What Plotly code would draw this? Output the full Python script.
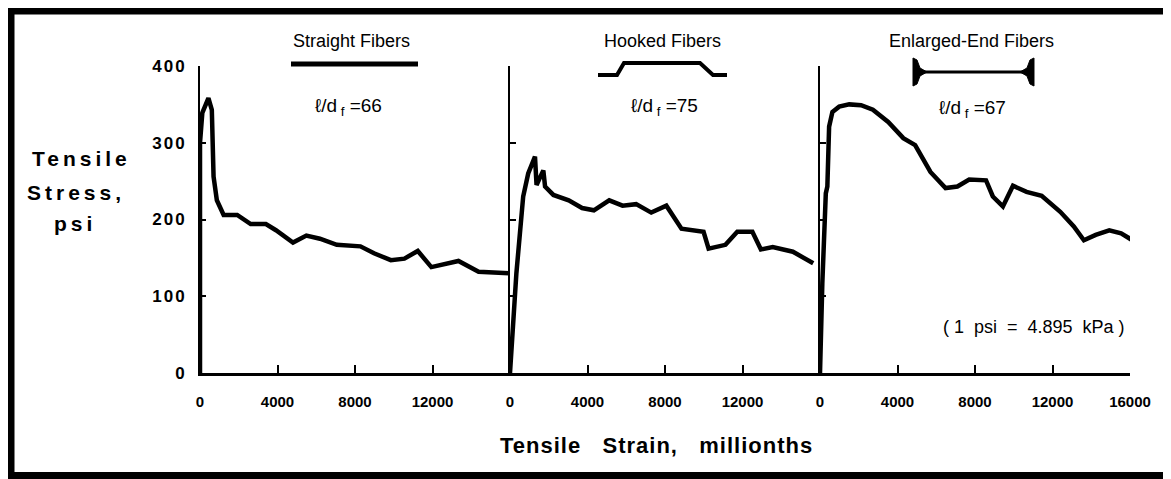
import plotly.graph_objects as go

# ---------------- data ----------------
straight_strain = [0, 0, 120, 435, 610, 700, 870, 1220, 1920, 2615, 3400, 3920, 4800, 5490, 6190,
                   7060, 8280, 8980, 9850, 10550, 11240, 11940, 13340, 14380, 15950]
straight_stress = [0, 300, 339, 358, 343, 256, 225, 206, 206, 194, 194, 186, 170, 179, 175,
                   167, 165, 156, 147, 149, 159, 138, 146, 132, 130]

hooked_strain = [0, 330, 680, 940, 1290, 1370, 1720, 1810, 2240, 3030, 3720, 4330, 5120, 5810,
                 6510, 7290, 8070, 8850, 9990, 10250, 11120, 11730, 12510, 12950, 13560, 14600, 15650]
hooked_stress = [0, 130, 230, 260, 282, 245, 264, 243, 232, 225, 215, 212, 225, 218,
                 220, 209, 218, 188, 184, 162, 167, 184, 184, 161, 164, 158, 143]

enlarged_strain = [0, 120, 300, 380, 470, 640, 990, 1510, 2120, 2730, 3520, 4300, 4910, 5700,
                   6480, 7090, 7700, 8570, 8920, 9440, 9960, 10660, 11440, 12400, 13100, 13620,
                   14230, 14930, 15540, 16060]
enlarged_stress = [0, 117, 234, 243, 321, 340, 347, 350, 349, 343, 327, 306, 297, 262,
                   241, 243, 252, 251, 230, 217, 244, 236, 231, 210, 191, 173,
                   180, 186, 182, 174]

panel_titles = ["Straight Fibers", "Hooked Fibers", "Enlarged-End Fibers"]
aspect_labels = ["=66", "=75", "=67"]
y_ticks = [0, 100, 200, 300, 400]
y_tick_text = ["0", "100", "200", "300", "400"]
x_ticks_left = [0, 4000, 8000, 12000]
x_ticks_right = [0, 4000, 8000, 12000, 16000]
x_text_left = ["0", "4000", "8000", "12000"]
x_text_right = ["0", "4000", "8000", "12000", "16000"]

# ---------------- layout geometry ----------------
# page has an 8px body margin; figure coords = page coords - 8
OFF = 8
W, H = 1163, 471
L, T = 200 - OFF, 66 - OFF
PW, PH = 930, 307
R = W - L - PW
B = H - T - PH


def X(px):
    return (px - OFF - L) / PW


def Y(py):
    return (T + PH - (py - OFF)) / PH


FONT = "Liberation Sans, Arial, sans-serif"

fig = go.Figure()
series = [(straight_strain, straight_stress, "x", "y"),
          (hooked_strain, hooked_stress, "x2", "y2"),
          (enlarged_strain, enlarged_stress, "x3", "y3")]
for xs, ys, xa, ya in series:
    fig.add_trace(go.Scatter(x=xs, y=ys, xaxis=xa, yaxis=ya, mode="lines",
                             line=dict(color="black", width=4.5), showlegend=False,
                             cliponaxis=False))

common_x = dict(range=[0, 16000], showgrid=False, zeroline=False, showline=True,
                linecolor="black", linewidth=2.5, ticks="inside", ticklen=8, tickwidth=1.5,
                tickcolor="black", ticklabelstandoff=13,
                tickfont=dict(family=FONT, size=15, color="black", weight="bold"))
common_y = dict(range=[0, 400], showgrid=False, zeroline=False, showline=True,
                linecolor="black", ticks="inside", ticklen=6, tickwidth=1.5, tickcolor="black",
                tickvals=y_ticks)

fig.update_layout(
    width=W, height=H,
    margin=dict(l=L, r=R, t=T, b=B, pad=0),
    paper_bgcolor="white", plot_bgcolor="white",
    xaxis=dict(domain=[0, 1/3], anchor="y", tickvals=x_ticks_left, ticktext=x_text_left, **common_x),
    xaxis2=dict(domain=[1/3, 2/3], anchor="y2", tickvals=x_ticks_left, ticktext=x_text_left, **common_x),
    xaxis3=dict(domain=[2/3, 1], anchor="y3", tickvals=x_ticks_right, ticktext=x_text_right, **common_x),
    yaxis=dict(domain=[0, 1], anchor="x", linewidth=2, showticklabels=True,
               ticktext=['<span style="letter-spacing:2px">' + t + '</span>' for t in y_tick_text],
               ticklabelstandoff=8,
               tickfont=dict(family=FONT, size=17, color="black", weight="bold"), **common_y),
    yaxis2=dict(domain=[0, 1], anchor="x2", linewidth=1.5, showticklabels=False, **common_y),
    yaxis3=dict(domain=[0, 1], anchor="x3", linewidth=1.5, showticklabels=False, **common_y),
)

ann = []


def add_text(text, cx, cy, size, bold=False):
    ann.append(dict(text=text, x=X(cx), y=Y(cy), xref="paper", yref="paper",
                    xanchor="center", yanchor="middle", showarrow=False,
                    font=dict(family=FONT, size=size, color="black",
                              weight="bold" if bold else "normal")))


# panel titles
for txt, cx in zip(panel_titles, [351, 662, 971]):
    add_text(txt, cx, 41, 18)
# aspect ratios
for lab, cx, cy in zip(aspect_labels, [348, 664, 972], [107, 107, 109]):
    add_text("ℓ/d<sub> f</sub>&nbsp;" + lab, cx, cy, 19)
# y-axis title
for word, cx, cy in zip(["Tensile", "Stress,", "psi"], [82, 76, 75], [158, 192, 223]):
    add_text('<span style="letter-spacing:4px">' + word + '</span>', cx, cy, 21, bold=True)
# x-axis title
add_text('<span style="letter-spacing:1px">Tensile&nbsp;&nbsp;&nbsp;Strain,&nbsp;&nbsp;&nbsp;millionths</span>',
         656, 445, 22, bold=True)
# unit note
add_text("( 1&nbsp;&nbsp;psi&nbsp;&nbsp;=&nbsp;&nbsp;4.895&nbsp;&nbsp;kPa )", 1034, 327, 18)
fig.update_layout(annotations=ann)


def P(pts):
    return "M " + " L ".join(f"{X(a):.5f},{Y(b):.5f}" for a, b in pts)


shapes = []
# outer frame
shapes.append(dict(type="rect", xref="paper", yref="paper", x0=X(11), x1=X(1168),
                   y0=Y(11), y1=Y(475.5), line=dict(color="black", width=7)))
# straight fiber symbol
shapes.append(dict(type="line", xref="paper", yref="paper", x0=X(291), x1=X(418),
                   y0=Y(64), y1=Y(64), line=dict(color="black", width=5)))
# hooked fiber symbol
shapes.append(dict(type="path", xref="paper", yref="paper",
                   path=P([(598, 75), (617, 75), (624, 63), (700, 63), (713, 75), (727, 75)]),
                   line=dict(color="black", width=4)))
# enlarged-end fiber symbol
shapes.append(dict(type="line", xref="paper", yref="paper", x0=X(917), x1=X(1030),
                   y0=Y(72), y1=Y(72), line=dict(color="black", width=3)))
shapes.append(dict(type="path", xref="paper", yref="paper",
                   path=P([(913, 58), (917, 60), (920, 68), (927, 72), (920, 76), (917, 84),
                           (913, 86)]) + " Z",
                   fillcolor="black", line=dict(color="black", width=1)))
shapes.append(dict(type="path", xref="paper", yref="paper",
                   path=P([(1034, 58), (1030, 60), (1027, 68), (1020, 72), (1027, 76),
                           (1030, 84), (1034, 86)]) + " Z",
                   fillcolor="black", line=dict(color="black", width=1)))
fig.update_layout(shapes=shapes)

fig.write_html("out.html")
